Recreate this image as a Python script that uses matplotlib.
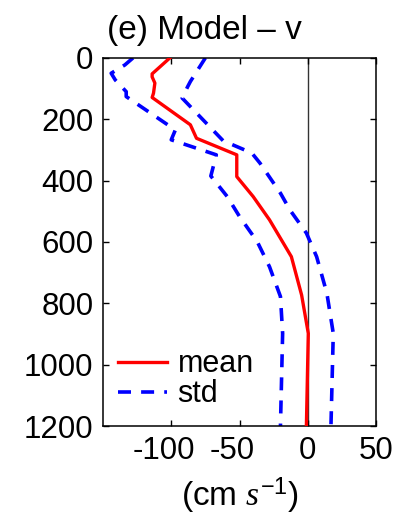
import matplotlib
matplotlib.use("Agg")
import matplotlib.pyplot as plt
from matplotlib.transforms import ScaledTranslation

plt.rcParams['font.family'] = ['Liberation Sans', 'DejaVu Sans']
plt.rcParams['mathtext.fontset'] = 'custom'
plt.rcParams['mathtext.it'] = 'Liberation Serif:italic'
plt.rcParams['mathtext.rm'] = 'Liberation Sans'

# data (depth in m, velocity in cm/s)
depth_mean = [0, 52, 62, 82, 115, 129, 218, 262, 316, 387, 452, 528, 648, 773, 898, 1200]
v_mean = [-101, -114, -114, -112, -113, -114, -86, -81.5, -52, -52, -40, -28, -12, -4.5, 0.4, -1]

depth_lo = [0, 23, 50, 72, 110, 126, 235, 267, 316, 385, 452, 517, 599, 681, 778, 898, 1200]
v_lo = [-128, -134, -144, -141, -133, -133, -97, -100, -67, -71, -59, -50, -37, -28, -20, -18.4, -20]

depth_hi = [0, 28, 77, 94, 131, 270, 310, 343, 441, 496, 571, 648, 767, 898, 1200]
v_hi = [-75, -79, -86, -88, -92, -62, -41, -35, -20, -13, -1, 6.5, 14, 18.7, 17]

xticks = [-100, -50, 0, 50]
xticklabels = ['-100', '-50', '0', '50']
yticks = [0, 200, 400, 600, 800, 1000, 1200]

fig = plt.figure(figsize=(4.0, 5.17), dpi=100)
ax = fig.add_axes([0.2575, 0.176, 0.6825, 0.712])

ax.axvline(0, color='#333333', lw=1.0, zorder=1)
ax.plot(v_mean, depth_mean, color='#ff0000', lw=2.4, label='mean', zorder=3)
ax.plot(v_lo, depth_lo, color='#0000ff', lw=2.6, ls=(0, (3.6, 2.8)), label='std', zorder=2)
ax.plot(v_hi, depth_hi, color='#0000ff', lw=2.6, ls=(0, (3.6, 2.8)), zorder=2)

ax.set_xlim(-150, 50)
ax.set_ylim(1200, 0)
ax.set_xticks(xticks)
ax.set_xticklabels(xticklabels)
ax.set_yticks(yticks)
ax.tick_params(direction='in', top=True, right=True, labelsize=22.5, length=4, width=1, pad=7)
for s in ax.spines.values():
    s.set_linewidth(1.1)

# MATLAB-like placement of negative tick labels (shifted slightly left)
for lbl in ax.get_xticklabels():
    if lbl.get_text().startswith('-'):
        lbl.set_transform(lbl.get_transform() + ScaledTranslation(-7/100, 0, fig.dpi_scale_trans))

ax.set_xlabel(r'(cm $\mathit{s}^{-1}$)', fontsize=24, labelpad=7)
fig.text(107/400, 1 - 39/517, '(e) Model – v', fontsize=24, ha='left', va='baseline')

ax.legend(loc='lower left', bbox_to_anchor=(0.055, 0.045), frameon=False, fontsize=22,
          handlelength=1.6, handletextpad=0.35, labelspacing=0.0, borderpad=0, borderaxespad=0)

fig.savefig('out.png', dpi=100)
